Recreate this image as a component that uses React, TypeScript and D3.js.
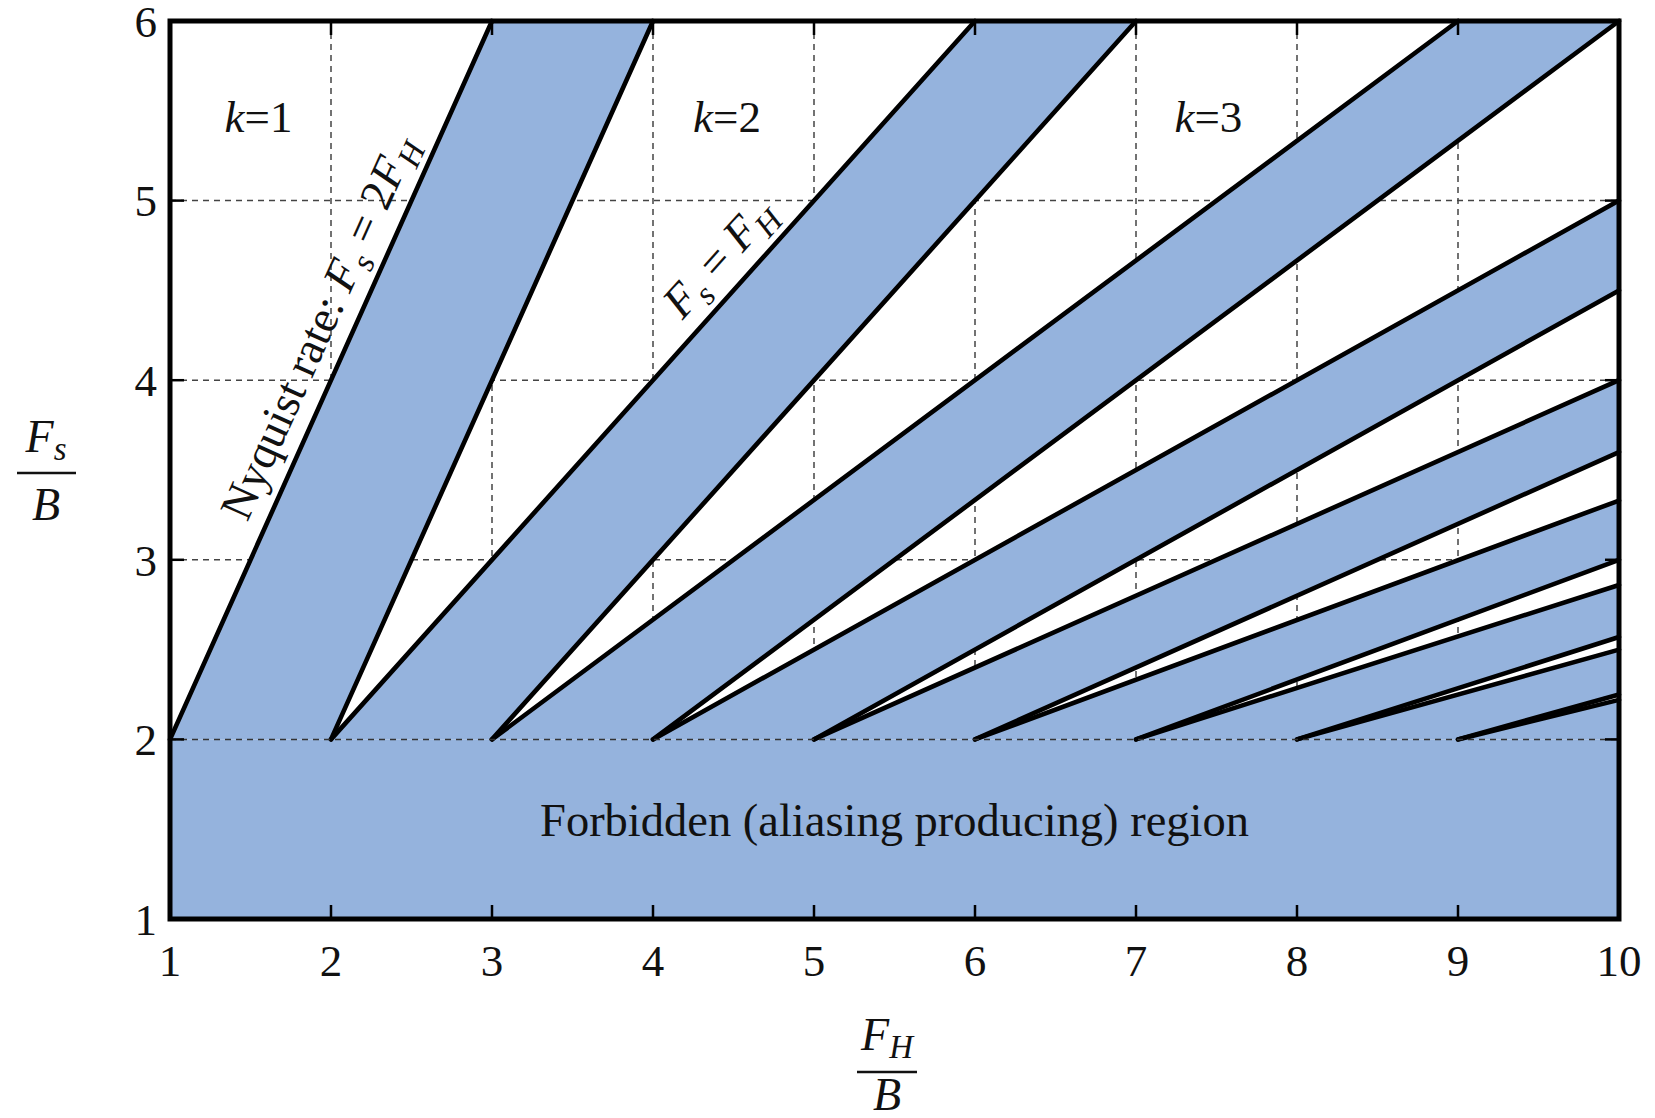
import { useRef, useEffect } from 'react';
import * as d3 from 'd3';

// Bandpass sampling chart: forbidden wedges between Fs = 2FH/k and Fs = 2(FH-B)/k
const K_VALUES = [1, 2, 3, 4, 5, 6, 7, 8, 9];
// lower edge of each forbidden wedge (Fs = 2FH/k): start on Fs/B = 2, end on frame
const LOWER_START = [1, 2, 3, 4, 5, 6, 7, 8, 9];
const LOWER_END: [number, number][] = [
  [3, 6], [6, 6], [9, 6], [10, 5], [10, 4], [10, 3.33], [10, 2.86], [10, 2.5], [10, 2.22],
];
// upper edge (Fs = 2(FH - B)/k)
const UPPER_START = [2, 3, 4, 5, 6, 7, 8, 9, 10];
const UPPER_END: [number, number][] = [
  [4, 6], [7, 6], [10, 6], [10, 4.5], [10, 3.6], [10, 3.0], [10, 2.57], [10, 2.25], [10, 2],
];

const X_TICKS = [1, 2, 3, 4, 5, 6, 7, 8, 9, 10];
const Y_TICKS = [1, 2, 3, 4, 5, 6];
const K_LABELS = [
  { k: '1', x: 1.55 },
  { k: '2', x: 4.46 },
  { k: '3', x: 7.45 },
];

const BLUE = '#95b3dd';
const FONT = '"Liberation Serif", "Times New Roman", serif';

export default function App() {
  const svgRef = useRef<SVGSVGElement>(null);

  useEffect(() => {
    if (!svgRef.current) return;
    const width = 1655;
    const height = 1118;
    const svg = d3.select(svgRef.current);
    svg.selectAll('*').remove();
    svg.attr('width', width).attr('height', height).attr('viewBox', `0 0 ${width} ${height}`);

    const x = d3.scaleLinear().domain([1, 10]).range([170, 1619]);
    const y = d3.scaleLinear().domain([1, 6]).range([919, 21]);

    svg.append('rect').attr('width', width).attr('height', height).attr('fill', 'white');

    // grid (under the fills)
    const grid = svg.append('g').attr('stroke', '#444').attr('stroke-width', 1.5).attr('stroke-dasharray', '6,5');
    X_TICKS.slice(1, -1).forEach(v => {
      grid.append('line').attr('x1', x(v)).attr('x2', x(v)).attr('y1', y(1)).attr('y2', y(6));
    });
    Y_TICKS.slice(2, -1).forEach(v => {
      grid.append('line').attr('x1', x(1)).attr('x2', x(10)).attr('y1', y(v)).attr('y2', y(v));
    });

    // forbidden region below Fs/B = 2
    svg.append('rect')
      .attr('x', x(1)).attr('y', y(2))
      .attr('width', x(10) - x(1)).attr('height', y(1) - y(2))
      .attr('fill', BLUE);

    // forbidden wedges
    const line = d3.line<[number, number]>().x(d => x(d[0])).y(d => y(d[1]));
    K_VALUES.forEach((_, i) => {
      const pts: [number, number][] = [
        [LOWER_START[i], 2], LOWER_END[i], UPPER_END[i], [UPPER_START[i], 2],
      ];
      svg.append('path').attr('d', line(pts) + 'Z').attr('fill', BLUE);
    });

    // edges
    const edges = svg.append('g').attr('stroke', '#000').attr('stroke-width', 4.6).attr('fill', 'none')
      .attr('stroke-linecap', 'round');
    K_VALUES.forEach((_, i) => {
      edges.append('path').attr('d', line([[LOWER_START[i], 2], LOWER_END[i]]));
      if (UPPER_START[i] < 10) edges.append('path').attr('d', line([[UPPER_START[i], 2], UPPER_END[i]]));
    });

    // Fs/B = 2 dashed line on top
    svg.append('line')
      .attr('x1', x(1)).attr('x2', x(10)).attr('y1', y(2)).attr('y2', y(2))
      .attr('stroke', '#333').attr('stroke-width', 1.5).attr('stroke-dasharray', '6,5');

    // frame
    svg.append('rect')
      .attr('x', x(1)).attr('y', y(6))
      .attr('width', x(10) - x(1)).attr('height', y(1) - y(6))
      .attr('fill', 'none').attr('stroke', '#000').attr('stroke-width', 5);

    // inward ticks
    const ticks = svg.append('g').attr('stroke', '#000').attr('stroke-width', 2.5);
    Y_TICKS.forEach(v => {
      ticks.append('line').attr('x1', x(1)).attr('x2', x(1) + 14).attr('y1', y(v)).attr('y2', y(v));
      ticks.append('line').attr('x1', x(10)).attr('x2', x(10) - 14).attr('y1', y(v)).attr('y2', y(v));
    });
    X_TICKS.forEach(v => {
      ticks.append('line').attr('x1', x(v)).attr('x2', x(v)).attr('y1', y(1)).attr('y2', y(1) - 14);
      ticks.append('line').attr('x1', x(v)).attr('x2', x(v)).attr('y1', y(6)).attr('y2', y(6) + 14);
    });

    const txt = svg.append('g').attr('font-family', FONT).attr('fill', '#111');

    // tick labels
    Y_TICKS.forEach(v => {
      txt.append('text').attr('x', x(1) - 13).attr('y', y(v)).attr('dy', '0.35em')
        .attr('text-anchor', 'end').attr('font-size', 45).text(v);
    });
    X_TICKS.forEach(v => {
      txt.append('text').attr('x', x(v)).attr('y', 976)
        .attr('text-anchor', 'middle').attr('font-size', 45).text(v);
    });

    // k labels
    K_LABELS.forEach(d => {
      const t = txt.append('text').attr('x', x(d.x)).attr('y', y(5.38))
        .attr('text-anchor', 'middle').attr('font-size', 45);
      t.append('tspan').attr('font-style', 'italic').text('k');
      t.append('tspan').text('=' + d.k);
    });

    // rotated annotations along lines
    const angle = (x0: number, y0: number, x1: number, y1: number) =>
      (Math.atan2(y(y1) - y(y0), x(x1) - x(x0)) * 180) / Math.PI;

    const nyq = txt.append('text')
      .attr('transform', `translate(${x(2.11)},${y(4.22)}) rotate(${angle(1, 2, 3, 6)})`)
      .attr('y', -18).attr('text-anchor', 'middle').attr('font-size', 46);
    nyq.append('tspan').text('Nyquist rate: ');
    nyq.append('tspan').attr('font-style', 'italic').text('F');
    nyq.append('tspan').attr('font-style', 'italic').attr('font-size', 33).attr('dy', 10).text('s');
    nyq.append('tspan').attr('dy', -10).text(' = 2');
    nyq.append('tspan').attr('font-style', 'italic').text('F');
    nyq.append('tspan').attr('font-style', 'italic').attr('font-size', 33).attr('dy', 10).text('H');

    const fsh = txt.append('text')
      .attr('transform', `translate(${x(4.56)},${y(4.56)}) rotate(${angle(2, 2, 6, 6)})`)
      .attr('y', -18).attr('text-anchor', 'middle').attr('font-size', 46);
    fsh.append('tspan').attr('font-style', 'italic').text('F');
    fsh.append('tspan').attr('font-style', 'italic').attr('font-size', 33).attr('dy', 10).text('s');
    fsh.append('tspan').attr('dy', -10).text(' = ');
    fsh.append('tspan').attr('font-style', 'italic').text('F');
    fsh.append('tspan').attr('font-style', 'italic').attr('font-size', 33).attr('dy', 10).text('H');

    txt.append('text').attr('x', x(5.5)).attr('y', y(1.46))
      .attr('text-anchor', 'middle').attr('font-size', 46.5)
      .text('Forbidden (aliasing producing) region');

    // y axis label: Fs / B
    const yl = txt.append('text').attr('x', 46).attr('y', 452).attr('text-anchor', 'middle').attr('font-size', 46);
    yl.append('tspan').attr('font-style', 'italic').text('F');
    yl.append('tspan').attr('font-style', 'italic').attr('font-size', 33).attr('dy', 8).text('s');
    svg.append('line').attr('x1', 17).attr('x2', 76).attr('y1', 473).attr('y2', 473)
      .attr('stroke', '#111').attr('stroke-width', 2.5);
    txt.append('text').attr('x', 46).attr('y', 520).attr('text-anchor', 'middle')
      .attr('font-size', 46).attr('font-style', 'italic').text('B');

    // x axis label: FH / B
    const xl = txt.append('text').attr('x', 887).attr('y', 1050).attr('text-anchor', 'middle').attr('font-size', 46);
    xl.append('tspan').attr('font-style', 'italic').text('F');
    xl.append('tspan').attr('font-style', 'italic').attr('font-size', 33).attr('dy', 8).text('H');
    svg.append('line').attr('x1', 857).attr('x2', 917).attr('y1', 1072).attr('y2', 1072)
      .attr('stroke', '#111').attr('stroke-width', 2.5);
    txt.append('text').attr('x', 887).attr('y', 1110).attr('text-anchor', 'middle')
      .attr('font-size', 46).attr('font-style', 'italic').text('B');
  }, []);

  return (
    <>
      <style>{'body{margin:0}'}</style>
      <svg ref={svgRef} style={{ display: 'block' }} />
    </>
  );
}
